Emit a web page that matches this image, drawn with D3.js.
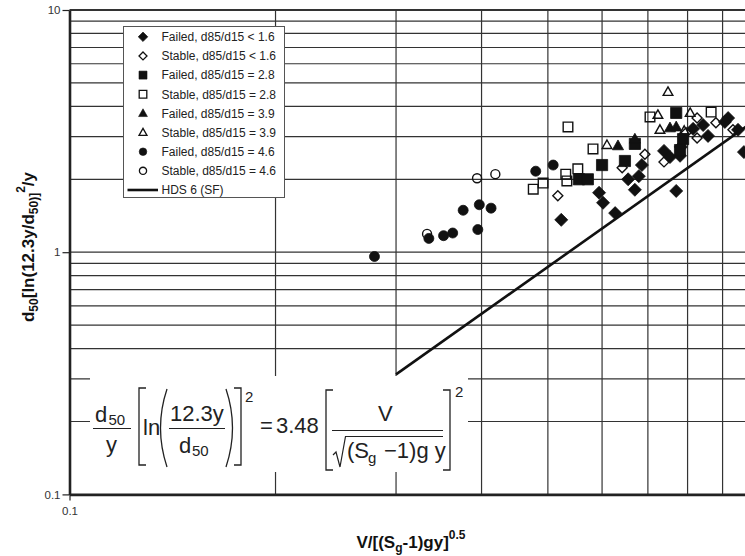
<!DOCTYPE html>
<html><head><meta charset="utf-8">
<script src="https://cdn.jsdelivr.net/npm/d3@7"></script>
<style>html,body{margin:0;padding:0;background:#fff;overflow:hidden}svg{display:block}</style>
</head><body>
<svg id="c" width="745" height="556"></svg>
<script>
// ---- data (x = V/[(Sg-1)gy]^0.5, y = d50[ln(12.3y/d50)]^2/y) ----
const failedLt16 = [[0.523,1.36],[0.594,1.76],[0.602,1.60],[0.627,1.45],[0.655,2.00],[0.679,2.06],[0.670,1.81],[0.686,2.29],[0.770,1.79],[0.739,2.62],[0.754,2.47],[0.780,2.50],[0.782,2.72],[0.815,3.23],[0.843,3.35],[0.857,3.02],[0.917,3.58],[0.907,3.45],[0.948,3.20],[0.967,2.59]];
const stableLt16 = [[0.517,1.71],[0.642,2.23],[0.693,2.54],[0.739,2.36],[0.826,3.58],[0.826,2.96],[0.880,3.42],[0.932,3.20],[0.796,3.11]];
const failed28 = [[0.555,2.00],[0.572,2.00],[0.600,2.29],[0.648,2.38],[0.670,2.80],[0.770,3.76],[0.788,2.93],[0.780,2.64]];
const stable28 = [[0.535,3.29],[0.582,2.67],[0.476,1.82],[0.492,1.93],[0.531,2.10],[0.533,1.97],[0.553,2.21],[0.705,3.62],[0.866,3.79]];
const failed39 = [[0.633,2.75],[0.670,2.93],[0.754,3.26],[0.770,3.29]];
const stable39 = [[0.749,4.59],[0.724,3.69],[0.807,3.76],[0.729,3.20],[0.610,2.77],[0.791,3.17]];
const failed46 = [[0.279,0.96],[0.335,1.14],[0.352,1.17],[0.363,1.20],[0.376,1.49],[0.397,1.57],[0.413,1.52],[0.395,1.24],[0.480,2.16],[0.509,2.29]];
const stable46 = [[0.333,1.19],[0.394,2.02],[0.419,2.10]];
const hdsLine = [[0.3,0.313],[1.0,3.48]];
const legendLabels = ["Failed, d85/d15 < 1.6","Stable, d85/d15 < 1.6","Failed, d85/d15 = 2.8","Stable, d85/d15 = 2.8","Failed, d85/d15 = 3.9","Stable, d85/d15 = 3.9","Failed, d85/d15 = 4.6","Stable, d85/d15 = 4.6","HDS 6 (SF)"];
const xTickValues = [0.1], xTickLabels = ["0.1"];
const yTickValues = [0.1,1,10], yTickLabels = ["0.1","1","10"];
const xGrid = [0.2,0.3,0.4,0.5,0.6,0.7,0.8,0.9,1];
const yGrid = [0.2,0.3,0.4,0.5,0.6,0.7,0.8,0.9,1,2,3,4,5,6,7,8,9,10];

const FONT = "Arial, 'Liberation Sans', Helvetica, sans-serif";
const svg = d3.select("#c").style("font-family", FONT);
const x = d3.scaleLog().domain([0.1,1]).range([69.5,753.9]);
const y = d3.scaleLog().domain([0.1,10]).range([494.4,10]);

// grid
const g = svg.append("g");
g.selectAll(".hg").data(yGrid).join("line")
  .attr("x1", x(0.1)).attr("x2", x(1)).attr("y1", d=>y(d)).attr("y2", d=>y(d))
  .attr("stroke", "#333").attr("stroke-width", d=>d===10?2:1.2);
g.selectAll(".vg").data(xGrid).join("line")
  .attr("y1", y(0.1)).attr("y2", y(10)).attr("x1", d=>x(d)).attr("x2", d=>x(d))
  .attr("stroke", "#333").attr("stroke-width", 1.2);

// HDS line
const line = d3.line().x(d=>x(d[0])).y(d=>y(d[1]));
svg.append("path").attr("d", line(hdsLine)).attr("fill","none").attr("stroke","#111").attr("stroke-width",2.6);

// equation box (white)
svg.append("rect").attr("x",90).attr("y",376).attr("width",378).attr("height",96).attr("fill","#fff");

// axes
const yAxis = d3.axisLeft(y).tickValues(yTickValues).tickFormat((d,i)=>yTickLabels[i]).tickSize(7).tickSizeOuter(0);
const ya = svg.append("g").attr("transform",`translate(${x(0.1)},0)`).call(yAxis);
ya.select(".domain").attr("stroke","#222").attr("stroke-width",2.6);
ya.selectAll(".tick line").attr("stroke","#222").attr("stroke-width",1.2);
ya.selectAll(".tick text").attr("font-size",11.5).attr("font-family",FONT).attr("fill","#333").attr("x",-9);
const xAxis = d3.axisBottom(x).tickValues(xTickValues).tickFormat((d,i)=>xTickLabels[i]).tickSize(6).tickSizeOuter(0);
const xa = svg.append("g").attr("transform",`translate(0,${y(0.1)})`).call(xAxis);
xa.select(".domain").attr("stroke","#222").attr("stroke-width",2.6);
xa.selectAll(".tick line").attr("stroke","#222").attr("stroke-width",1.2);
xa.selectAll(".tick text").attr("font-size",11.5).attr("font-family",FONT).attr("fill","#333").attr("y",12);

// markers
const shapes = {
  diamond: r=>`M0,${-r}L${r},0L0,${r}L${-r},0Z`,
  square: r=>`M${-r},${-r}H${r}V${r}H${-r}Z`,
  triangle: r=>`M0,${-r*1.1}L${r*1.05},${r*0.75}L${-r*1.05},${r*0.75}Z`,
  circle: r=>`M${r},0A${r},${r} 0 1,1 ${-r},0A${r},${r} 0 1,1 ${r},0Z`
};
const series = [
  {data:failedLt16, shape:"diamond", filled:true, r:6.5, lr:4.8},
  {data:stableLt16, shape:"diamond", filled:false, r:5, lr:4},
  {data:failed28, shape:"square", filled:true, r:5.6, lr:4},
  {data:stable28, shape:"square", filled:false, r:4.8, lr:3.8},
  {data:failed39, shape:"triangle", filled:true, r:5.3, lr:4.2},
  {data:stable39, shape:"triangle", filled:false, r:4.6, lr:3.8},
  {data:failed46, shape:"circle", filled:true, r:5, lr:3.8},
  {data:stable46, shape:"circle", filled:false, r:4.5, lr:3.6}
];
series.forEach(s=>{
  svg.append("g").selectAll("path").data(s.data).join("path")
    .attr("transform", d=>`translate(${x(d[0])},${y(d[1])})`)
    .attr("d", shapes[s.shape](s.r))
    .attr("fill", s.filled?"#111":"none")
    .attr("stroke", "#111").attr("stroke-width", s.filled?0.8:1.4);
});

// legend
const lg = svg.append("g");
lg.append("rect").attr("x",123.5).attr("y",26.5).attr("width",161).attr("height",171)
  .attr("fill","#fff").attr("stroke","#555").attr("stroke-width",1);
legendLabels.forEach((lab,i)=>{
  const cy = 36.8 + i*19.15;
  if (i < series.length) {
    const s = series[i];
    lg.append("path").attr("transform",`translate(143,${cy})`).attr("d", shapes[s.shape](s.lr))
      .attr("fill", s.filled?"#111":"none").attr("stroke","#111").attr("stroke-width", s.filled?0.6:1.3);
  } else {
    lg.append("line").attr("x1",127.5).attr("x2",158).attr("y1",cy).attr("y2",cy).attr("stroke","#111").attr("stroke-width",2.6);
  }
  lg.append("text").attr("x",161.5).attr("y",cy+4.3).attr("font-size",12).attr("fill","#222").text(lab);
});

// axis titles
const xt = svg.append("text").attr("x",411).attr("y",548).attr("text-anchor","middle")
  .attr("font-size",17).attr("font-weight","bold").attr("fill","#111");
xt.append("tspan").text("V/[(S");
xt.append("tspan").attr("font-size",12).attr("dy",4).text("g");
xt.append("tspan").attr("dy",-4).text("-1)gy]");
xt.append("tspan").attr("font-size",12).attr("dy",-9).text("0.5");

const yt = svg.append("text").attr("transform","translate(34,247) rotate(-90)").attr("text-anchor","middle")
  .attr("font-size",17).attr("font-weight","bold").attr("fill","#111");
yt.append("tspan").text("d");
yt.append("tspan").attr("font-size",12).attr("dy",4).text("50");
yt.append("tspan").attr("dy",-4).text("[ln(12.3y/d");
yt.append("tspan").attr("font-size",12).attr("dy",4).text("50)]");
yt.append("tspan").attr("font-size",12).attr("dy",-13).text("2");
yt.append("tspan").attr("dy",9).text("/y");

// equation
const eq = svg.append("g").attr("fill","#222");
const T = (tx,ty,s,fs)=>eq.append("text").attr("x",tx).attr("y",ty).attr("font-size",fs).text(s);
const P = (d,w)=>eq.append("path").attr("d",d).attr("fill","none").attr("stroke","#222").attr("stroke-width",w||1.3);
T(95,422,"d",22); T(108.5,425,"50",15);
P("M93,428.5H131",1.2);
T(106,452,"y",22);
P("M146,388H139V465H146");
T(143,435,"ln",22);
P("M167,389Q154,428 167,467");
T(170,421,"12.3y",22);
P("M169,428.5H225",1.2);
T(179,453,"d",22); T(192,456,"50",15);
P("M226,389Q239,428 226,467");
P("M234,388H241V465H234");
T(245,402,"2",15);
T(260,433,"=",22); T(276,433,"3.48",22);
P("M333,390H326V470H333");
T(378,421,"V",22);
P("M332,430.5H443",1.2);
P("M333,455L336,452L340,467L345.5,436.5H443",1.2);
T(347,458,"(S",22); T(368,463,"g",15); T(384,458,"\u22121)g y",22);
P("M443,390H450V470H443");
T(455,397,"2",15);
</script>
</body></html>
